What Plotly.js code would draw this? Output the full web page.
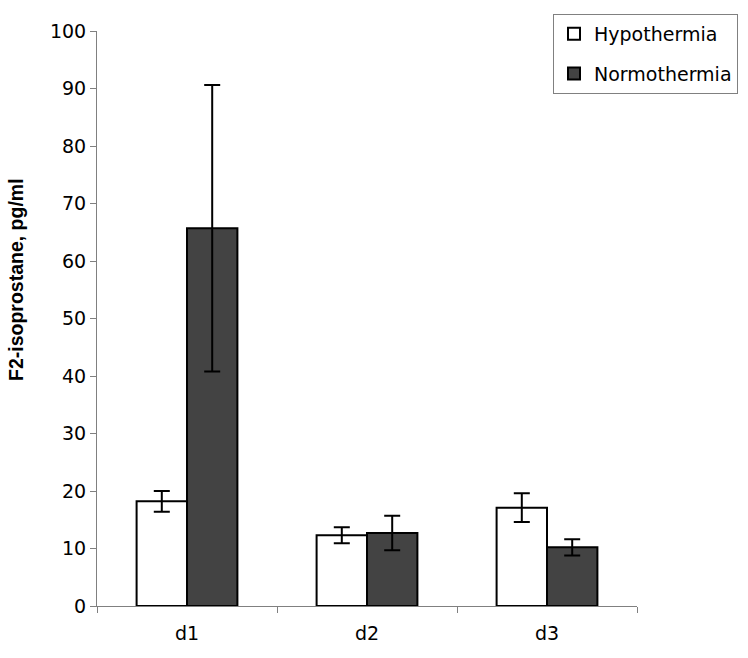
<!DOCTYPE html>
<html>
<head>
<meta charset="utf-8">
<script src="https://cdn.plot.ly/plotly-3.0.1.min.js"></script>
<style>html,body{margin:0;padding:0;background:#fff;}#chart{width:748px;height:658px;}</style>
</head>
<body>
<div id="chart"></div>
<script>
var categories = ["d1", "d2", "d3"];
var hypoValues = [18.2, 12.3, 17.1];
var hypoErrors = [1.8, 1.4, 2.5];
var normoValues = [65.7, 12.7, 10.2];
var normoErrors = [24.9, 3.0, 1.4];
var yTicks = [0, 10, 20, 30, 40, 50, 60, 70, 80, 90, 100];
var yTitle = "F2-isoprostane, pg/ml";

var fontFam = "DejaVu Sans, Liberation Sans, sans-serif";
var titleFam = "Liberation Sans, Arial, sans-serif";

var traces = [
  {
    type: "bar", name: "Hypothermia", x: categories, y: hypoValues, legendgroup: "a",
    marker: {color: "#ffffff", line: {color: "#000000", width: 2}},
    error_y: {type: "data", array: hypoErrors, visible: true, color: "#000000", thickness: 2, width: 8}
  },
  {
    type: "bar", name: "Normothermia", x: categories, y: normoValues, legendgroup: "b",
    marker: {color: "#434343", line: {color: "#000000", width: 2}},
    error_y: {type: "data", array: normoErrors, visible: true, color: "#000000", thickness: 2, width: 8}
  }
];

var plotW = 748 - 97 - 111, plotH = 606 - 31;

var layout = {
  width: 748, height: 658,
  margin: {l: 97, r: 111, t: 31, b: 52, autoexpand: false},
  paper_bgcolor: "#ffffff", plot_bgcolor: "#ffffff",
  barmode: "group", bargap: 0.44, bargroupgap: 0,
  font: {family: fontFam, size: 19, color: "#000000"},
  showlegend: true,
  legend: {
    xref: "paper", yref: "paper", xanchor: "left", yanchor: "top",
    x: (553 - 97) / plotW, y: (606 - 14) / plotH,
    bordercolor: "#808080", borderwidth: 1, bgcolor: "#ffffff",
    font: {family: fontFam, size: 19, color: "#000000"},
    tracegroupgap: 12
  },
  xaxis: {
    type: "category", showgrid: false, zeroline: false,
    showline: true, linecolor: "#808080", linewidth: 1,
    ticks: "outside", tickson: "boundaries", ticklen: 6, tickcolor: "#808080",
    ticklabelstandoff: 10,
    tickfont: {family: fontFam, size: 19, color: "#000000"},
    range: [-0.5, 2.5]
  },
  yaxis: {
    range: [0, 100], tickvals: yTicks, showgrid: false, zeroline: false,
    showline: true, linecolor: "#808080", linewidth: 1,
    ticks: "outside", ticklen: 6, tickcolor: "#808080",
    tickfont: {family: fontFam, size: 19, color: "#000000"}
  },
  annotations: [{
    text: "<b>" + yTitle + "</b>", textangle: -90, showarrow: false,
    xref: "paper", yref: "paper", xanchor: "center", yanchor: "middle",
    x: (16 - 97) / plotW, y: (606 - 280) / plotH,
    font: {family: titleFam, size: 19.5, color: "#000000"}
  }]
};

Plotly.newPlot("chart", traces, layout, {displayModeBar: false});
</script>
</body>
</html>
